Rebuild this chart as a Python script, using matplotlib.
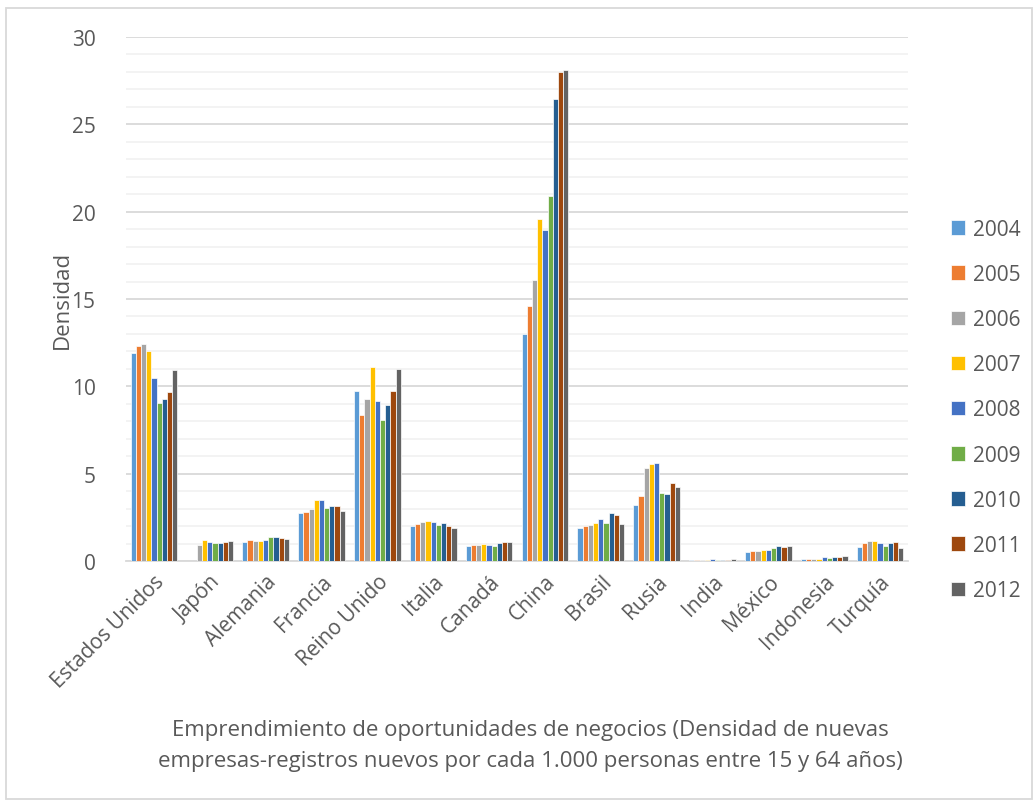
import numpy as np
import matplotlib.pyplot as plt
from matplotlib.patches import Rectangle

plt.rcParams['font.family'] = ['Open Sans', 'DejaVu Sans']

paises = ['Estados Unidos', 'Japón', 'Alemania', 'Francia', 'Reino Unido', 'Italia',
          'Canadá', 'China', 'Brasil', 'Rusia', 'India', 'México', 'Indonesia', 'Turquía']
anios = ['2004', '2005', '2006', '2007', '2008', '2009', '2010', '2011', '2012']

d2004 = [11.9, 0.0, 1.09, 2.75, 9.75, 2.0, 0.84, 13.02, 1.89, 3.21, 0.05, 0.5, 0.1, 0.81]
d2005 = [12.3, 0.0, 1.18, 2.81, 8.37, 2.14, 0.92, 14.6, 1.99, 3.73, 0.05, 0.56, 0.13, 1.02]
d2006 = [12.4, 0.92, 1.15, 3.0, 9.25, 2.24, 0.92, 16.1, 2.06, 5.35, 0.03, 0.6, 0.13, 1.12]
d2007 = [12.0, 1.2, 1.15, 3.5, 11.13, 2.29, 0.97, 19.57, 2.16, 5.54, 0.05, 0.65, 0.13, 1.17]
d2008 = [10.47, 1.07, 1.18, 3.48, 9.16, 2.22, 0.93, 18.95, 2.41, 5.62, 0.1, 0.65, 0.21, 1.02]
d2009 = [9.07, 1.01, 1.36, 3.06, 8.09, 2.08, 0.85, 20.9, 2.16, 3.9, 0.05, 0.77, 0.15, 0.87]
d2010 = [9.28, 1.05, 1.36, 3.14, 8.91, 2.18, 1.05, 26.47, 2.73, 3.86, 0.05, 0.87, 0.21, 1.02]
d2011 = [9.67, 1.07, 1.3, 3.14, 9.71, 2.03, 1.08, 27.97, 2.62, 4.45, 0.06, 0.81, 0.25, 1.08]
d2012 = [10.96, 1.13, 1.26, 2.87, 11.01, 1.89, 1.06, 28.09, 2.14, 4.26, 0.12, 0.85, 0.27, 0.77]
series = [d2004, d2005, d2006, d2007, d2008, d2009, d2010, d2011, d2012]

colores = ['#5B9BD5', '#ED7D31', '#A5A5A5', '#FFC000', '#4472C4',
           '#70AD47', '#255E91', '#9E480E', '#636363']
gris = '#595959'

fig = plt.figure(figsize=(10.34, 8.04), dpi=100)
ax = fig.add_axes([126 / 1034, 1 - 562 / 804, (908 - 126) / 1034, (562 - 38) / 804])

x = np.arange(len(paises))
w = 0.093
for i, (vals, c, a) in enumerate(zip(series, colores, anios)):
    ax.bar(x + (i - 4) * w, vals, width=w, color=c, edgecolor='white',
           linewidth=0.5, label=a, zorder=3)

ax.set_xlim(-0.5, len(paises) - 0.5)
ax.set_ylim(0, 30)
ax.set_yticks(range(0, 31, 5))
ax.set_yticks(range(0, 31), minor=True)
ax.grid(axis='y', which='major', color='#d9d9d9', linewidth=1.3, zorder=0)
ax.grid(axis='y', which='minor', color='#f2f2f2', linewidth=1.3, zorder=0)
for s in ['top', 'right', 'left']:
    ax.spines[s].set_visible(False)
ax.spines['bottom'].set_color('#d9d9d9')
ax.spines['bottom'].set_linewidth(1.3)
ax.tick_params(axis='both', which='both', length=0, colors=gris, labelsize=15)
ax.tick_params(axis='y', pad=22)
ax.set_xticks(x)
ax.set_xticklabels(paises, rotation=45, ha='right', rotation_mode='anchor')
ax.tick_params(axis='x', pad=7)

ax.set_ylabel('Densidad', fontsize=16, color=gris)
ax.yaxis.set_label_coords(-0.068, 0.5)

fig.text(530 / 1034, 1 - 746 / 804,
         'Emprendimiento de oportunidades de negocios (Densidad de nuevas\n'
         'empresas-registros nuevos por cada 1.000 personas entre 15 y 64 años)',
         ha='center', va='center', fontsize=16, color=gris, linespacing=1.6)

leg = fig.legend(loc='upper left', bbox_to_anchor=(932 / 1034, 1 - 201 / 804),
                 frameon=False, fontsize=15, labelspacing=1.16,
                 handlelength=0.7, handleheight=0.7, handletextpad=0.35)
for t in leg.get_texts():
    t.set_color(gris)

fig.patches.append(Rectangle((6 / 1034, 4 / 804), 1026 / 1034, 791 / 804,
                             transform=fig.transFigure, fill=False,
                             edgecolor='#d9d9d9', linewidth=1.3))

fig.savefig('out.png', dpi=100)
